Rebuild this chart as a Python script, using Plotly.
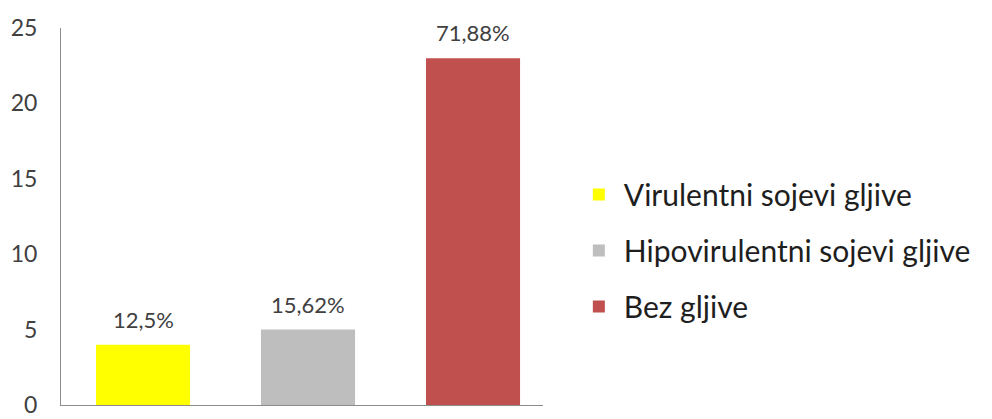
import plotly.graph_objects as go

categories = ["Virulentni sojevi gljive", "Hipovirulentni sojevi gljive", "Bez gljive"]
values = [4, 5, 23]
labels = ["12,5%", "15,62%", "71,88%"]
colors = ["#FFFF00", "#BEBEBE", "#C0504D"]
yticks = [0, 5, 10, 15, 20, 25]

fig = go.Figure()
for i, (c, v, lab, col) in enumerate(zip(categories, values, labels, colors)):
    fig.add_trace(go.Bar(
        x=[c], y=[v], name=c,
        marker=dict(color=col, line=dict(width=0)),
        width=0.57, legendgroup=str(i),
    ))
    fig.add_annotation(x=c, y=v, text=lab, showarrow=False, yanchor="bottom",
                       yshift=10, font=dict(size=22, color="#404040", family="Lato"))

fig.update_layout(
    width=984, height=411,
    margin=dict(l=53, r=449, t=20, b=14),
    paper_bgcolor="white", plot_bgcolor="white",
    barmode="overlay",
    showlegend=True,
    legend=dict(x=1.064, xanchor="left", y=0.41, yanchor="middle",
                font=dict(size=30, color="#1e1e1e", family="Lato"),
                tracegroupgap=14, itemwidth=40),
    font=dict(family="Lato"),
)
fig.update_xaxes(type="category", categoryorder="array", categoryarray=categories,
                 range=[-0.497, 2.424], showticklabels=False, ticks="",
                 showline=True, linecolor="#8C8C8C", linewidth=1, showgrid=False,
                 zeroline=False, automargin=False)
fig.update_yaxes(range=[0, 25], tickvals=yticks, showline=True, linecolor="#8C8C8C",
                 linewidth=1, showgrid=False, zeroline=False, ticks="",
                 ticklabelstandoff=18, automargin=False, ticklabeloverflow="allow",
                 tickfont=dict(size=23, color="#404040", family="Lato"))

fig.write_html("out.html")
